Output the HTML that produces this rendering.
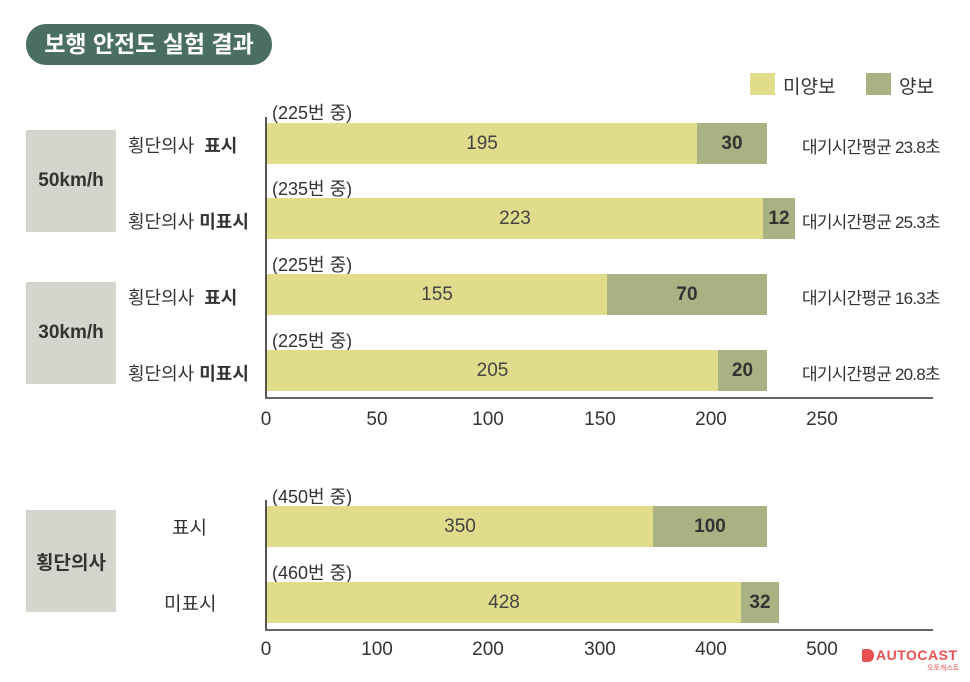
<!DOCTYPE html>
<html><head><meta charset="utf-8"><style>
body{margin:0;width:970px;height:682px;background:#fff;position:relative;overflow:hidden;font-family:"Liberation Sans","Noto Sans CJK KR",sans-serif;color:#333}
.a{position:absolute}
.pill{left:26px;top:24px;width:246px;height:41px;background:#4a6f62;border-radius:20px;color:#fff;font-size:23px;font-weight:bold;text-align:center;line-height:41px}
.box{background:#d6d5cd;width:90px;height:102px;left:26px;font-weight:bold;font-size:19px;text-align:center;display:flex;align-items:center;justify-content:center}
.y{background:#e0dc8c;height:41px;text-align:center;line-height:41px;font-size:19px;color:#444}
.g{background:#a8b282;height:41px;text-align:center;line-height:41px;font-size:19px;font-weight:bold;color:#333}
.n{font-size:18px;color:#333}
.lab{font-size:19px;color:#333}
.lab2{font-size:18px;color:#333}
.t{font-size:19px;color:#333;width:60px;text-align:center}
.w{font-size:17px;color:#333;letter-spacing:-0.8px}
</style></head><body>
<div class="a pill">보행 안전도 실험 결과</div>
<div class="a" style="left:750px;top:73px;width:25px;height:22px;background:#e0dc8c"></div>
<div class="a lab" style="left:783px;top:72px">미양보</div>
<div class="a" style="left:866px;top:73px;width:25px;height:22px;background:#a8b282"></div>
<div class="a lab" style="left:899px;top:72px">양보</div>

<div class="a box" style="top:130px">50km/h</div>
<div class="a box" style="top:282px">30km/h</div>
<div class="a box" style="top:510px">횡단의사</div>

<div class="a lab2" style="left:128px;top:132px">횡단의사 &nbsp;<b>표시</b></div>
<div class="a lab2" style="left:128px;top:208px">횡단의사 <b>미표시</b></div>
<div class="a lab2" style="left:128px;top:284px">횡단의사 &nbsp;<b>표시</b></div>
<div class="a lab2" style="left:128px;top:360px">횡단의사 <b>미표시</b></div>
<div class="a lab" style="left:172px;top:513px">표시</div>
<div class="a lab" style="left:164px;top:589px">미표시</div>

<div class="a" style="left:265px;top:117px;width:1.5px;height:281px;background:#555"></div>
<div class="a" style="left:265px;top:397px;width:668px;height:2px;background:#666"></div>
<div class="a" style="left:265px;top:500px;width:1.5px;height:130px;background:#555"></div>
<div class="a" style="left:265px;top:629px;width:668px;height:2px;background:#666"></div>

<div class="a n" style="left:272px;top:99px">(225번 중)</div>
<div class="a y" style="left:267px;top:123px;width:430px">195</div>
<div class="a g" style="left:697px;top:123px;width:70px">30</div>
<div class="a w" style="left:802px;top:133px">대기시간평균 23.8초</div>

<div class="a n" style="left:272px;top:175px">(235번 중)</div>
<div class="a y" style="left:267px;top:198px;width:496px">223</div>
<div class="a g" style="left:763px;top:198px;width:32px">12</div>
<div class="a w" style="left:802px;top:208px">대기시간평균 25.3초</div>

<div class="a n" style="left:272px;top:251px">(225번 중)</div>
<div class="a y" style="left:267px;top:274px;width:340px">155</div>
<div class="a g" style="left:607px;top:274px;width:160px">70</div>
<div class="a w" style="left:802px;top:284px">대기시간평균 16.3초</div>

<div class="a n" style="left:272px;top:327px">(225번 중)</div>
<div class="a y" style="left:267px;top:350px;width:451px">205</div>
<div class="a g" style="left:718px;top:350px;width:49px">20</div>
<div class="a w" style="left:802px;top:360px">대기시간평균 20.8초</div>

<div class="a t" style="left:236px;top:409px">0</div>
<div class="a t" style="left:347px;top:409px">50</div>
<div class="a t" style="left:458px;top:409px">100</div>
<div class="a t" style="left:570px;top:409px">150</div>
<div class="a t" style="left:681px;top:409px">200</div>
<div class="a t" style="left:792px;top:409px">250</div>

<div class="a n" style="left:272px;top:483px">(450번 중)</div>
<div class="a y" style="left:267px;top:506px;width:386px">350</div>
<div class="a g" style="left:653px;top:506px;width:114px">100</div>
<div class="a n" style="left:272px;top:559px">(460번 중)</div>
<div class="a y" style="left:267px;top:582px;width:474px">428</div>
<div class="a g" style="left:741px;top:582px;width:38px">32</div>

<div class="a t" style="left:236px;top:639px">0</div>
<div class="a t" style="left:347px;top:639px">100</div>
<div class="a t" style="left:458px;top:639px">200</div>
<div class="a t" style="left:570px;top:639px">300</div>
<div class="a t" style="left:681px;top:639px">400</div>
<div class="a t" style="left:792px;top:639px">500</div>

<div class="a" style="left:862px;top:649px;width:12px;height:13px;background:#e8514f;border-radius:2px 6px 6px 2px"></div>
<div class="a" style="left:876px;top:647px;font-size:14px;font-weight:bold;color:#e8514f;letter-spacing:0.5px">AUTOCAST</div>
<div class="a" style="left:927px;top:663px;font-size:7px;color:#e8514f">오토캐스트</div>
</body></html>
